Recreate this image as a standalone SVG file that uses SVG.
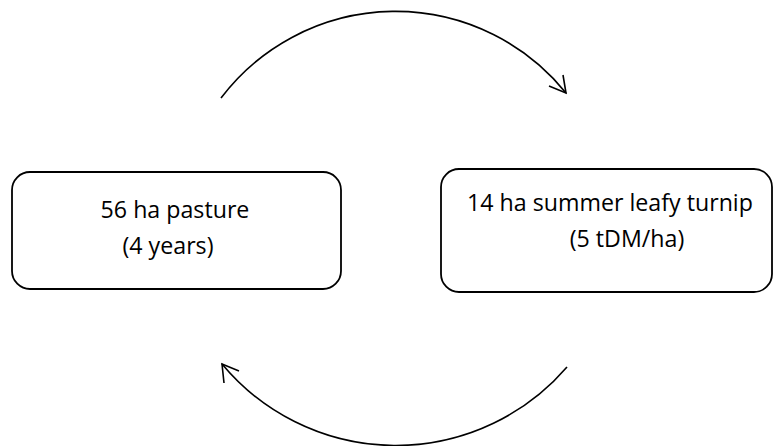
<svg xmlns="http://www.w3.org/2000/svg" width="774" height="446" viewBox="0 0 774 446">
<style>
.box{fill:#fff;stroke:#000;stroke-width:1.8}
.lbl{font-family:"Open Sans","Noto Sans",sans-serif;font-size:23.2px;fill:#000;text-anchor:middle}
.arc{fill:none;stroke:#000;stroke-width:1.6}
</style>
<rect width="774" height="446" fill="#fff"/>
<g id="pasture">
<rect class="box" x="12" y="172" width="329" height="117" rx="18"/>
<text class="lbl" x="175" y="218">56 ha pasture</text>
<text class="lbl" x="168" y="254">(4 years)</text>
</g>
<g id="turnip">
<rect class="box" x="441" y="169" width="331" height="123" rx="18"/>
<text class="lbl" x="610" y="211">14 ha summer leafy turnip</text>
<text class="lbl" x="627" y="247">(5 tDM/ha)</text>
</g>
<g id="connectors">
<path class="arc" d="M221,98 A219,219 0 0,1 566,93"/>
<polyline class="arc" points="549,86 566,93 563,75"/>
<path class="arc" d="M567,367 A226,226 0 0,1 222,364"/>
<polyline class="arc" points="239,371 222,364 224,383"/>
</g>
</svg>
